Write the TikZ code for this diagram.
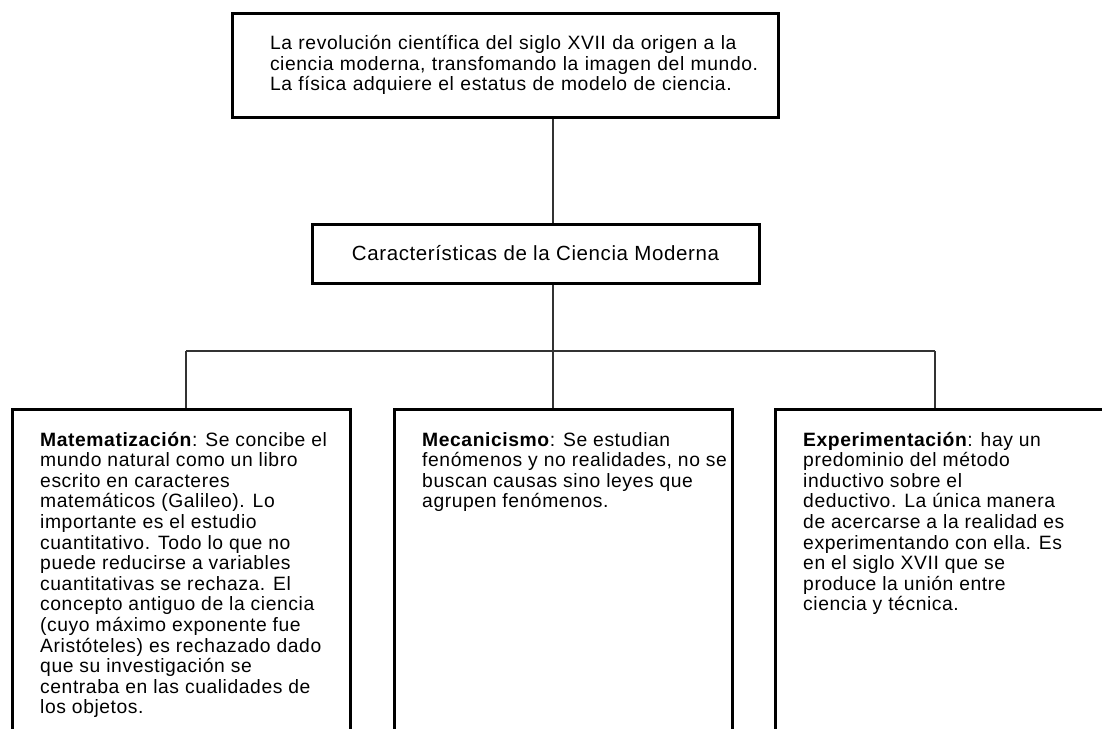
\documentclass[tikz,border=0pt]{standalone}
\usepackage{fontspec}
\setmainfont{Liberation Sans}[LetterSpace=3]
\usepackage{tikz}
\usetikzlibrary{positioning}
\newcommand{\boxcolor}{black}
\newcommand{\linkcolor}{black!80}
\newcommand{\boxrule}{3pt}
\newcommand{\linkrule}{1.6pt}
\newcommand{\txtsize}{\fontsize{19.3}{20.6}\selectfont}
\newcommand{\midsize}{\fontsize{20.5}{22}\selectfont}

\begin{document}
\begin{tikzpicture}[x=1pt,y=-1pt]
\clip (0,0) rectangle (1102,728);
\fill[white] (0,0) rectangle (1102,728);
%top
\node[draw=\boxcolor] (top) at (505,65) [line width=\boxrule, minimum width=546pt, minimum height=104pt, text width=470pt, inner xsep=38pt, align=left, font=\txtsize] {\mbox{La revolución científica del siglo XVII da origen a la}\\\mbox{ciencia moderna, transfomando la imagen del mundo.}\\\mbox{La física adquiere el estatus de modelo de ciencia.}};
%mid
\node[draw=\boxcolor] (mid) at (535.5,253.5) [line width=\boxrule, minimum width=447pt, minimum height=59pt, font=\midsize] {Características de la Ciencia Moderna};
%boxes
\node[draw=\boxcolor] (matbox) at (11,408) [anchor=north west, line width=\boxrule, minimum width=338pt, minimum height=352pt] {};
\node[draw=\boxcolor] (mecbox) at (393,408) [anchor=north west, line width=\boxrule, minimum width=338pt, minimum height=352pt] {};
\node[draw=\boxcolor] (expbox) at (774,408) [anchor=north west, line width=\boxrule, minimum width=338pt, minimum height=352pt] {};
%texts
\node (mattext) [below right=38pt and 29pt of matbox.north west, anchor=base west, inner sep=0pt, font=\txtsize] {\parbox[t]{300pt}{\raggedright
\textbf{Matematización}: Se concibe el\\mundo natural como un libro\\escrito en caracteres\\matemáticos (Galileo). Lo\\importante es el estudio\\cuantitativo. Todo lo que no\\puede reducirse a variables\\cuantitativas se rechaza. El\\concepto antiguo de la ciencia\\(cuyo máximo exponente fue\\Aristóteles) es rechazado dado\\que su investigación se\\centraba en las cualidades de\\los objetos.}};
\node (mectext) [below right=38pt and 29pt of mecbox.north west, anchor=base west, inner sep=0pt, font=\txtsize] {\parbox[t]{310pt}{\raggedright
\textbf{Mecanicismo}: Se estudian\\fenómenos y no realidades, no se\\buscan causas sino leyes que\\agrupen fenómenos.}};
\node (exptext) [below right=38pt and 29pt of expbox.north west, anchor=base west, inner sep=0pt, font=\txtsize] {\parbox[t]{300pt}{\raggedright
\textbf{Experimentación}: hay un\\predominio del método\\inductivo sobre el\\deductivo. La única manera\\de acercarse a la realidad es\\experimentando con ella. Es\\en el siglo XVII que se\\produce la unión entre\\ciencia y técnica.}};
%links
\coordinate (hub) at (553,351);
\coordinate (jl) at (186,351);
\coordinate (jr) at (935,351);
\draw[\linkcolor] [line width = \linkrule] (top.south -| hub) -- (mid.north -| hub);
\draw[\linkcolor] [line width = \linkrule] (mid.south -| hub) -- (hub);
\draw[\linkcolor] [line width = \linkrule] (jl) -- (jr);
\draw[\linkcolor] [line width = \linkrule] (jl) -- (jl |- matbox.north);
\draw[\linkcolor] [line width = \linkrule] (hub) -- (hub |- mecbox.north);
\draw[\linkcolor] [line width = \linkrule] (jr) -- (jr |- expbox.north);
\end{tikzpicture}
\end{document}
